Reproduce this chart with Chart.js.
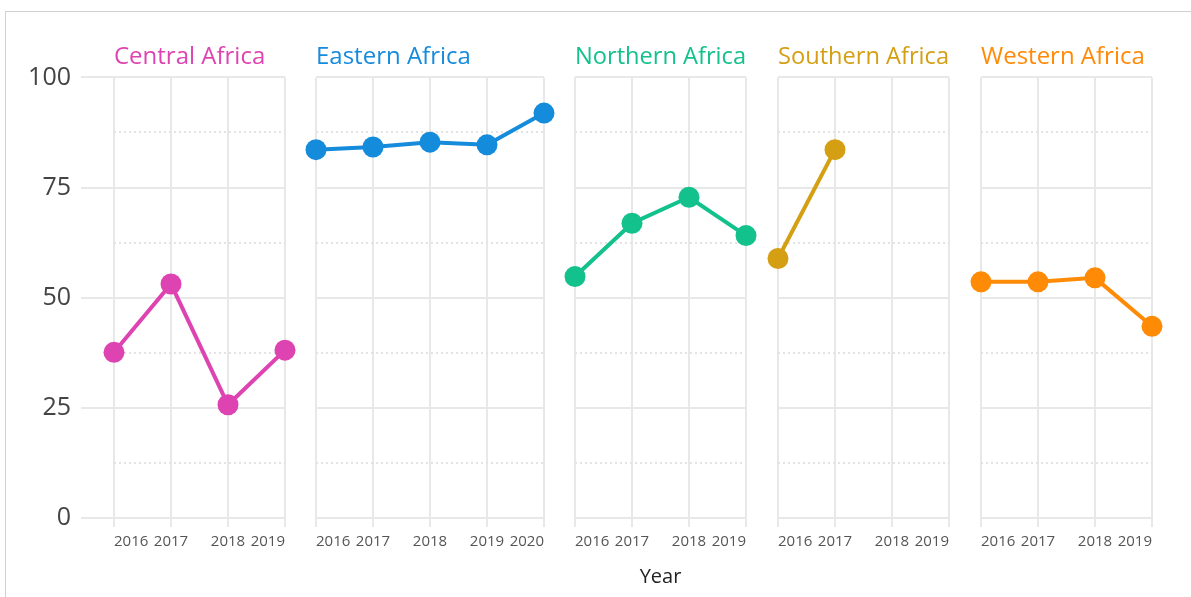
<!DOCTYPE html>
<html>
<head>
<meta charset="utf-8">
<script src="https://cdn.jsdelivr.net/npm/chart.js@4"></script>
<style>
  body { margin: 0; background: #fff; width: 1191px; height: 597px; overflow: hidden; position: relative; }
  .frame { position: absolute; left: 5px; top: 11px; width: 1300px; height: 700px; border-left: 1px solid #d0d0d0; border-top: 1px solid #d0d0d0; }
  canvas { position: absolute; top: 0; }
</style>
</head>
<body>
<div class="frame"></div>
<canvas id="c0" width="300" height="597" style="left:0px"></canvas>
<canvas id="c1" width="260" height="597" style="left:300px"></canvas>
<canvas id="c2" width="200" height="597" style="left:560px"></canvas>
<canvas id="c3" width="200" height="597" style="left:762px"></canvas>
<canvas id="c4" width="205" height="597" style="left:965px"></canvas>
<script>
// facet names and colours
const regions = ['Central Africa', 'Eastern Africa', 'Northern Africa', 'Southern Africa', 'Western Africa'];
const regionColors = ['#de44b1', '#158bdc', '#13c18c', '#d49f12', '#ff8a05'];

// x categories
const years4 = ['2016', '2017', '2018', '2019'];
const years5 = ['2016', '2017', '2018', '2019', '2020'];

// values
const centralValues = [37.6, 53.1, 25.7, 38.1];
const easternValues = [83.6, 84.2, 85.3, 84.7, 91.9];
const northernValues = [54.8, 66.9, 72.8, 64.1];
const southernValues = [58.9, 83.6, null, null];
const westernValues = [53.6, 53.6, 54.5, 43.5];

const panelLabels = [years4, years5, years4, years4, years4];
const panelValues = [centralValues, easternValues, northernValues, southernValues, westernValues];

// layout of each small multiple (left / right padding inside its canvas)
const panelPad = [[0, 15], [16, 16], [15, 14], [16, 13], [16, 18]];

const FONT = '"Open Sans", Lato, sans-serif';
const GRID = '#e8e8e8';

function makePanel(i) {
  const color = regionColors[i];
  const first = i === 0;
  const ctx = document.getElementById('c' + i).getContext('2d');
  return new Chart(ctx, {
    type: 'line',
    data: {
      labels: panelLabels[i],
      datasets: [{
        data: panelValues[i],
        borderColor: color,
        backgroundColor: color,
        pointBackgroundColor: color,
        borderWidth: 4,
        pointRadius: 10.5,
        pointBorderWidth: 0,
        tension: 0,
        clip: false
      }]
    },
    options: {
      responsive: false,
      animation: false,
      layout: { padding: { top: 43, bottom: 8, left: panelPad[i][0], right: panelPad[i][1] } },
      plugins: {
        legend: { display: false },
        tooltip: { enabled: false },
        title: {
          display: true,
          text: regions[i],
          color: color,
          align: 'start',
          fullSize: false,
          font: { family: FONT, size: 24, weight: 'normal' },
          padding: { top: 0, bottom: 5.6 }
        }
      },
      scales: {
        x: {
          type: 'category',
          grid: { color: GRID, lineWidth: 2, drawTicks: true, tickLength: 9, tickColor: GRID },
          border: { display: false },
          ticks: {
            font: { family: FONT, size: 15 },
            color: '#555',
            align: 'inner',
            padding: 6,
            maxRotation: 0,
            autoSkip: false
          },
          title: {
            display: true,
            text: 'Year',
            color: i === 2 ? '#222' : 'rgba(0,0,0,0)',
            font: { family: FONT, size: 20, weight: '500' },
            padding: { top: 8, bottom: 0 }
          }
        },
        y: {
          min: 0,
          max: 100,
          afterFit: s => { s.width = first ? 114 : 0; },
          grid: {
            color: c => (c.tick && c.tick.value % 25) ? '#e3e3e3' : GRID,
            lineWidth: 2,
            drawTicks: first,
            tickLength: 33,
            tickColor: c => (c.tick && c.tick.value % 25) ? 'rgba(0,0,0,0)' : GRID
          },
          border: {
            display: false,
            dash: c => (c.tick && c.tick.value % 25) ? [2, 3] : []
          },
          ticks: {
            display: first,
            stepSize: 12.5,
            padding: 10,
            color: '#444',
            font: { family: FONT, size: 25 },
            callback: v => (v % 25 === 0 ? v : '')
          }
        }
      }
    }
  });
}

regions.forEach((r, i) => makePanel(i));
</script>
</body>
</html>
